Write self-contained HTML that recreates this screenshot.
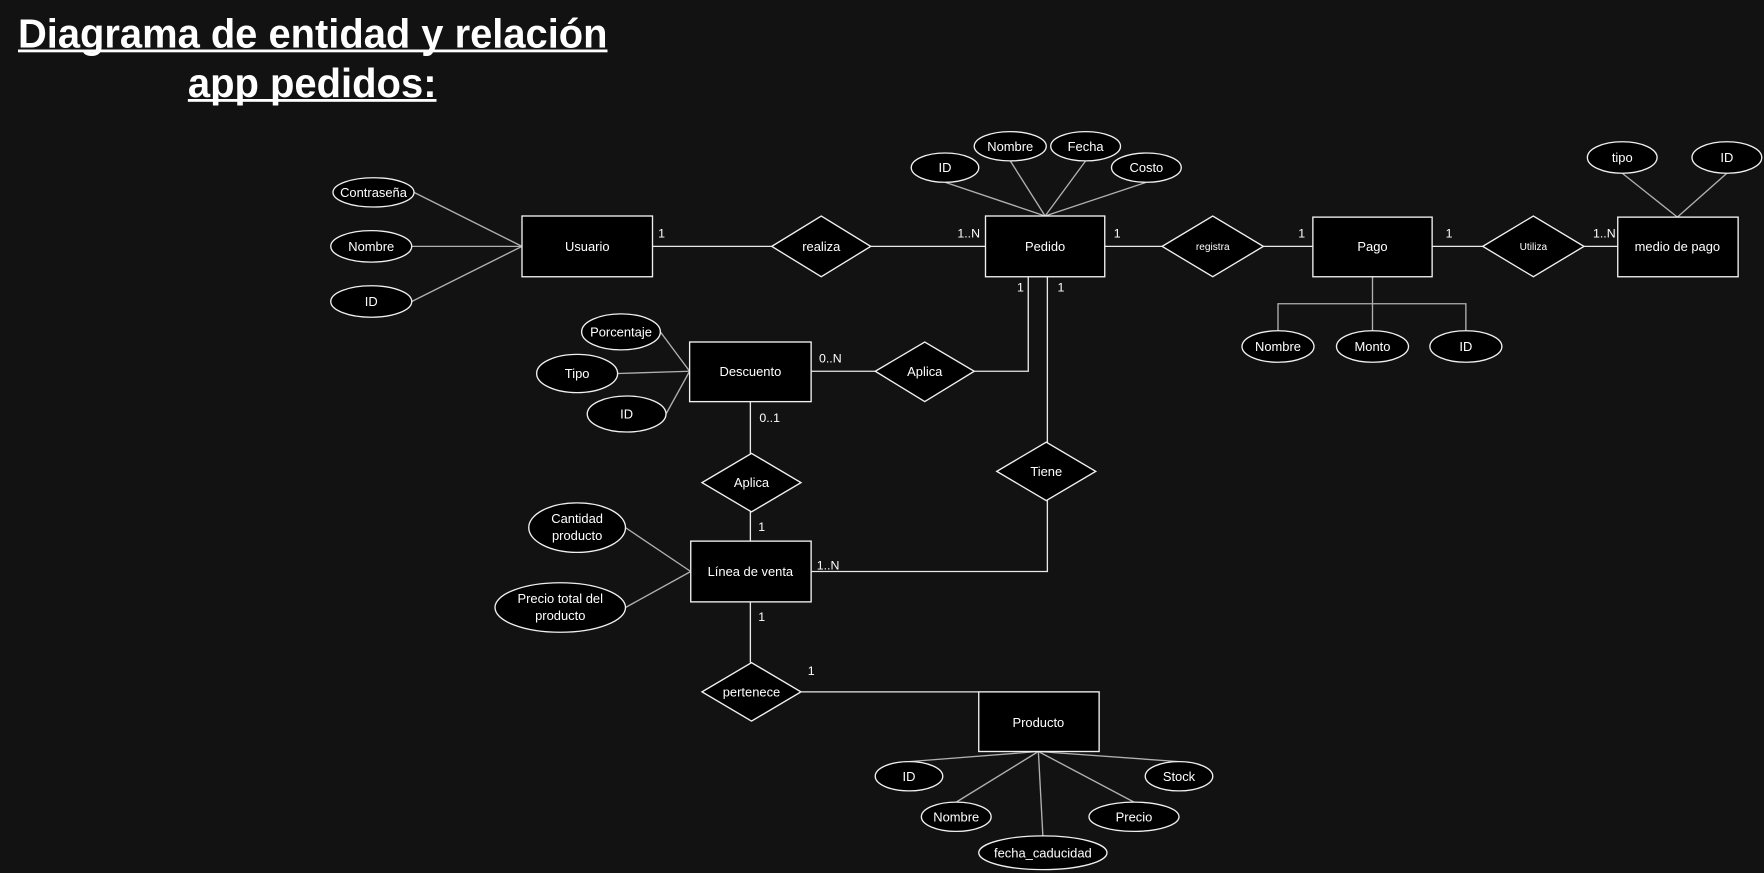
<!DOCTYPE html>
<html><head><meta charset="utf-8"><style>
html,body{margin:0;padding:0;background:#121212;}
svg{display:block;}
text{font-family:"Liberation Sans",Arial,sans-serif;fill:#fff;}
</style></head><body>
<svg width="1764" height="873" viewBox="0 0 1568 776" xmlns="http://www.w3.org/2000/svg">
<rect width="1568" height="776" fill="#121212"/>
<g font-weight="bold" font-size="36">
<text x="16" y="42" textLength="524" lengthAdjust="spacingAndGlyphs">Diagrama de entidad y relación</text>
<text x="167" y="86" textLength="221" lengthAdjust="spacingAndGlyphs">app pedidos:</text>
</g>
<rect x="16" y="44" width="524" height="2.5" fill="#fff"/>
<rect x="167" y="88" width="221" height="2.5" fill="#fff"/>

<g stroke="#b0b0b0" stroke-width="1.2" fill="none">
<line x1="368" y1="171" x2="464" y2="219"/>
<line x1="366" y1="219" x2="464" y2="219"/>
<line x1="366" y1="268" x2="464" y2="219"/>
<line x1="840" y1="162" x2="929" y2="192"/>
<line x1="898" y1="143" x2="929" y2="192"/>
<line x1="965" y1="143" x2="929" y2="192"/>
<line x1="1019" y1="162" x2="929" y2="192"/>
<line x1="1442" y1="154" x2="1491" y2="193"/>
<line x1="1535" y1="154" x2="1491" y2="193"/>
<polyline points="1136,295 1136,270 1303,270 1303,295"/>
<line x1="1220" y1="246" x2="1220" y2="295"/>
<line x1="587" y1="295" x2="613" y2="330"/>
<line x1="549" y1="332" x2="613" y2="330"/>
<line x1="592" y1="368" x2="613" y2="330"/>
<line x1="556" y1="469" x2="614" y2="508"/>
<line x1="556" y1="540" x2="614" y2="508"/>
<line x1="808" y1="677" x2="923" y2="668"/>
<line x1="850" y1="713" x2="923" y2="668"/>
<line x1="927" y1="743" x2="923" y2="668"/>
<line x1="1008" y1="713" x2="923" y2="668"/>
<line x1="1048" y1="677" x2="923" y2="668"/>
</g>
<g stroke="#e8e8e8" stroke-width="1.2" fill="none">
<line x1="580" y1="219" x2="876" y2="219"/>
<line x1="982" y1="219" x2="1167" y2="219"/>
<line x1="1273" y1="219" x2="1438" y2="219"/>
<polyline points="914,246 914,330 721,330"/>
<polyline points="931,246 931,508 721,508"/>
<line x1="667" y1="357" x2="667" y2="589"/>
<line x1="668" y1="615" x2="870" y2="615"/>
</g>

<g fill="#000" stroke="#f0f0f0" stroke-width="1.2">
<rect x="464" y="192" width="116" height="54"/>
<rect x="876" y="192" width="106" height="54"/>
<rect x="1167" y="193" width="106" height="53"/>
<rect x="1438" y="193" width="107" height="53"/>
<rect x="613" y="304" width="108" height="53"/>
<rect x="614" y="481" width="107" height="54"/>
<rect x="870" y="615" width="107" height="53"/>
<polygon points="686,219 730,192 774,219 730,246"/>
<polygon points="1033,219 1078,192 1123,219 1078,246"/>
<polygon points="1318,219 1363,192 1408,219 1363,246"/>
<polygon points="778,330 822,304 866,330 822,357"/>
<polygon points="886,419 930,393 974,419 930,445"/>
<polygon points="624,429 668,403 712,429 668,455"/>
<polygon points="624,615 668,589 712,615 668,641"/>
<ellipse cx="332" cy="171" rx="36" ry="13"/>
<ellipse cx="330" cy="219" rx="36" ry="14"/>
<ellipse cx="330" cy="268" rx="36" ry="14"/>
<ellipse cx="840" cy="149" rx="30" ry="13"/>
<ellipse cx="898" cy="130" rx="32" ry="13"/>
<ellipse cx="965" cy="130" rx="31" ry="13"/>
<ellipse cx="1019" cy="149" rx="31" ry="13"/>
<ellipse cx="1442" cy="140" rx="31" ry="14"/>
<ellipse cx="1535" cy="140" rx="31" ry="14"/>
<ellipse cx="1136" cy="308" rx="32" ry="14"/>
<ellipse cx="1220" cy="308" rx="32" ry="14"/>
<ellipse cx="1303" cy="308" rx="32" ry="14"/>
<ellipse cx="552" cy="295" rx="35" ry="16"/>
<ellipse cx="513" cy="332" rx="36" ry="17"/>
<ellipse cx="557" cy="368" rx="35" ry="16"/>
<ellipse cx="513" cy="469" rx="43" ry="22"/>
<ellipse cx="498" cy="540" rx="58" ry="22"/>
<ellipse cx="808" cy="690" rx="30" ry="13"/>
<ellipse cx="850" cy="726" rx="31" ry="13"/>
<ellipse cx="927" cy="758" rx="57" ry="15"/>
<ellipse cx="1008" cy="726" rx="40" ry="13"/>
<ellipse cx="1048" cy="690" rx="30" ry="13"/>
</g>

<g font-size="11.5" text-anchor="middle">
<text x="522" y="223">Usuario</text>
<text x="730" y="223">realiza</text>
<text x="929" y="223">Pedido</text>
<text x="1078" y="222" font-size="9">registra</text>
<text x="1220" y="223">Pago</text>
<text x="1363" y="222" font-size="9">Utiliza</text>
<text x="1491" y="223">medio de pago</text>
<text x="667" y="334">Descuento</text>
<text x="822" y="334">Aplica</text>
<text x="930" y="423">Tiene</text>
<text x="668" y="433">Aplica</text>
<text x="667" y="512">Línea de venta</text>
<text x="668" y="619">pertenece</text>
<text x="923" y="646">Producto</text>
<text x="332" y="175">Contraseña</text>
<text x="330" y="223">Nombre</text>
<text x="330" y="272">ID</text>
<text x="840" y="153">ID</text>
<text x="898" y="134">Nombre</text>
<text x="965" y="134">Fecha</text>
<text x="1019" y="153">Costo</text>
<text x="1442" y="144">tipo</text>
<text x="1535" y="144">ID</text>
<text x="1136" y="312">Nombre</text>
<text x="1220" y="312">Monto</text>
<text x="1303" y="312">ID</text>
<text x="552" y="299">Porcentaje</text>
<text x="513" y="336">Tipo</text>
<text x="557" y="372">ID</text>
<text x="513" y="465">Cantidad</text>
<text x="513" y="480">producto</text>
<text x="498" y="536">Precio total del</text>
<text x="498" y="551">producto</text>
<text x="808" y="694">ID</text>
<text x="850" y="730">Nombre</text>
<text x="927" y="762">fecha_caducidad</text>
<text x="1008" y="730">Precio</text>
<text x="1048" y="694">Stock</text>
</g>
<g font-size="11">
<text x="585" y="211">1</text>
<text x="851" y="211">1..N</text>
<text x="990" y="211">1</text>
<text x="1154" y="211">1</text>
<text x="1285" y="211">1</text>
<text x="1416" y="211">1..N</text>
<text x="904" y="259">1</text>
<text x="940" y="259">1</text>
<text x="728" y="322">0..N</text>
<text x="675" y="375">0..1</text>
<text x="674" y="472">1</text>
<text x="726" y="506">1..N</text>
<text x="674" y="552">1</text>
<text x="718" y="600">1</text>
</g>
</svg>
</body></html>
